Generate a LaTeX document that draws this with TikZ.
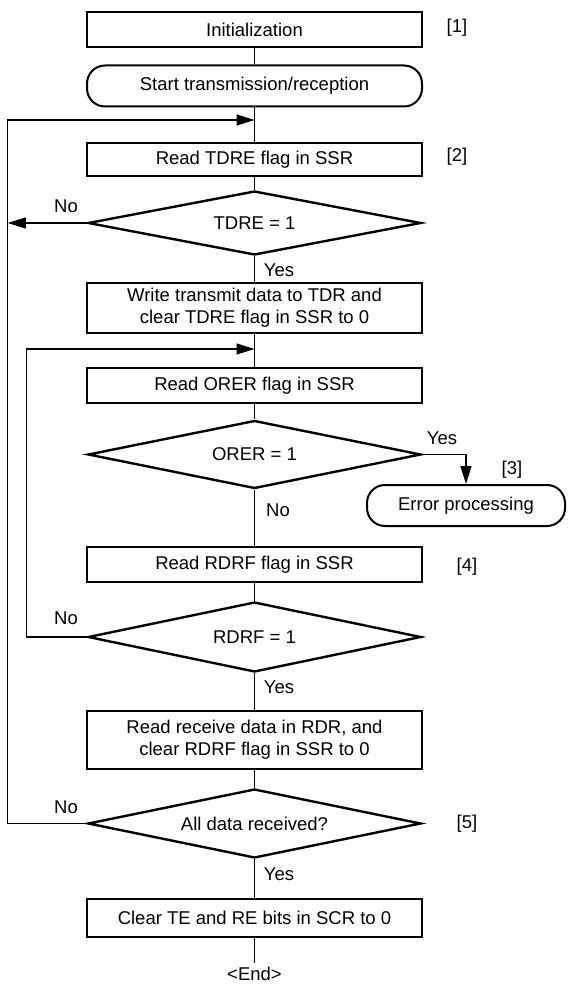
\documentclass[tikz,border=0pt]{standalone}
\usepackage{fontspec}
\setmainfont{Liberation Sans}
\usetikzlibrary{shapes.geometric,arrows.meta}
\begin{document}
\begin{tikzpicture}[x=1pt,y=-1pt,
  font=\fontsize{18.5}{22}\selectfont,
  procbox/.style={draw, line width=2.4pt, minimum width=335pt, inner sep=0pt, align=center},
  term/.style={draw, line width=2pt, rounded corners=18pt, minimum height=41pt, inner sep=0pt},
  dec/.style={draw, diamond, shape aspect=5, line width=2.4pt, minimum width=333pt, inner sep=0pt},
  conn/.style={line width=1.2pt},
  arr/.style={conn, -{Triangle[length=18pt,width=11pt]}},
  lbl/.style={inner sep=0pt}
]
\useasboundingbox (0,0) rectangle (568,987);

% main column
\node[procbox, minimum height=35pt] (init) at (254.5,29.5) {Initialization};
\node[term, minimum width=335pt] (start) at (254.5,86) {Start transmission/reception};
\coordinate (j1) at (254.5,120);
\node[procbox, minimum height=33pt] (rtdre) at (254.5,159.5) {Read TDRE flag in SSR};
\node[dec, minimum height=64pt] (dtdre) at (254.5,223) {TDRE = 1};
\node[procbox, minimum height=50pt] (wtdr) at (254.5,308) {Write transmit data to TDR and\\clear TDRE flag in SSR to 0};
\coordinate (j2) at (254.5,349);
\node[procbox, minimum height=35pt] (rorer) at (254.5,385.5) {Read ORER flag in SSR};
\node[dec, minimum height=68pt] (dorer) at (254.5,454.5) {ORER = 1};
\node[term, minimum width=198pt] (err) at (466,505.5) {Error processing};
\node[procbox, minimum height=35pt] (rrdrf) at (254.5,564.5) {Read RDRF flag in SSR};
\node[dec, minimum height=70pt] (drdrf) at (254.5,637) {RDRF = 1};
\node[procbox, minimum height=58pt] (rdr) at (254.5,740) {Read receive data in RDR, and\\clear RDRF flag in SSR to 0};
\node[dec, minimum height=69pt] (dall) at (254.5,823.5) {All data received?};
\node[procbox, minimum height=38pt] (clr) at (254.5,918) {Clear TE and RE bits in SCR to 0};
\node[anchor=north, inner sep=4pt] (end) at (254.5,963) {<End>};

% straight connectors
\draw[conn] (init) -- (start);
\draw[conn] (start) -- (rtdre);
\draw[conn] (rtdre) -- (dtdre);
\draw[conn] (dtdre) -- (wtdr);
\draw[conn] (wtdr) -- (rorer);
\draw[conn] (rorer) -- (dorer);
\draw[conn] (dorer) -- (rrdrf);
\draw[conn] (rrdrf) -- (drdrf);
\draw[conn] (drdrf) -- (rdr);
\draw[conn] (rdr) -- (dall);
\draw[conn] (dall) -- (clr);
\draw[conn] (clr) -- (end.north);

% loops
\draw[arr] (dall.west) -- ++(-79,0) |- (j1);
\draw[arr] (dtdre.west) -- ++(-79,0);
\draw[arr] (drdrf.west) -- ++(-60,0) |- (j2);
\draw[arr] (dorer.east) -| (err.north);

% labels
\node[lbl] (l1) at (457,28) {[1]};
\node[lbl] (l2) at (457,157) {[2]};
\node[lbl] (l3) at (512,470) {[3]};
\node[lbl] (l4) at (467,567) {[4]};
\node[lbl] (l5) at (467,824) {[5]};
\node[lbl] (n1) at (66,206) {No};
\node[lbl] (n2) at (278,510) {No};
\node[lbl] (n3) at (66,618) {No};
\node[lbl] (n4) at (66,807) {No};
\node[lbl] (y1) at (279,270) {Yes};
\node[lbl] (y2) at (442,438) {Yes};
\node[lbl] (y3) at (279,687) {Yes};
\node[lbl] (y4) at (279,874) {Yes};
\end{tikzpicture}
\end{document}
